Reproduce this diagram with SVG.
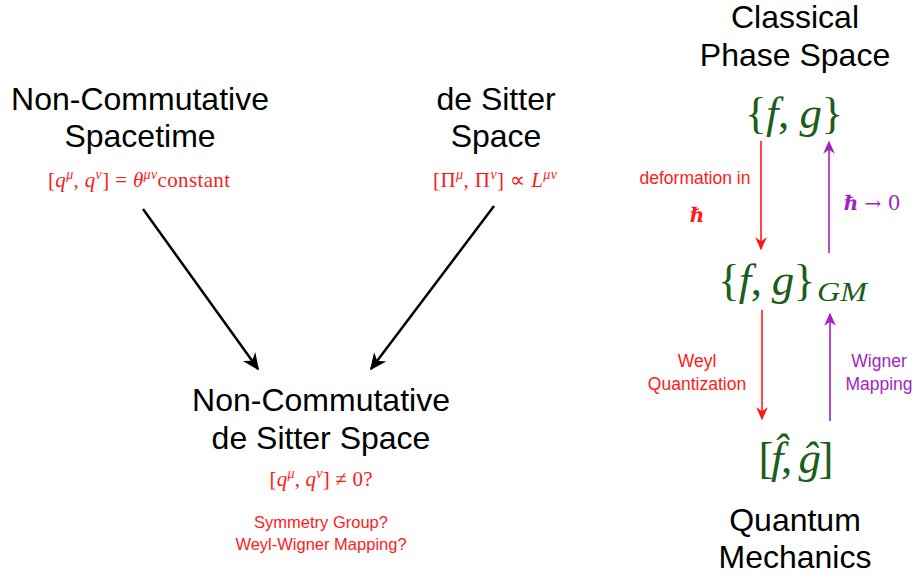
<svg xmlns="http://www.w3.org/2000/svg" width="915" height="578" viewBox="0 0 915 578">
<style>
  .t { font-family: "Liberation Sans", Arial, sans-serif; font-size: 32px; fill: #000; text-anchor: middle; }
  .l { font-family: "Liberation Sans", Arial, sans-serif; text-anchor: middle; }
  .m { font-family: "Liberation Serif", "Times New Roman", serif; font-size: 21px; text-anchor: middle; }
  .g { font-family: "Liberation Serif", "Times New Roman", serif; fill: #1b5e1b; }
  .i { font-style: italic; }
  .red { fill: #ff1a1a; }
  .pur { fill: #a21fc2; }
  .sup { font-size: 14px; }
  .blk { stroke: #000; stroke-width: 2.5; fill: none; }
  .ra { stroke: #ff1a1a; stroke-width: 1.6; fill: none; }
  .pa { stroke: #a21fc2; stroke-width: 1.6; fill: none; }
</style>
<defs>
  <marker id="hb" markerUnits="userSpaceOnUse" viewBox="0 0 10 10" refX="9" refY="5" markerWidth="17" markerHeight="17" orient="auto">
    <path d="M0,0.5 L10,5 L0,9.5 L3,5 z" fill="#000"/>
  </marker>
  <marker id="hr" markerUnits="userSpaceOnUse" viewBox="0 0 10 10" refX="9" refY="5" markerWidth="13" markerHeight="13" orient="auto">
    <path d="M0,0.5 L10,5 L0,9.5 L3,5 z" fill="#ff1a1a"/>
  </marker>
  <marker id="hp" markerUnits="userSpaceOnUse" viewBox="0 0 10 10" refX="9" refY="5" markerWidth="13" markerHeight="13" orient="auto">
    <path d="M0,0.5 L10,5 L0,9.5 L3,5 z" fill="#a21fc2"/>
  </marker>
</defs>

<g id="connectors">
  <line class="blk" x1="143" y1="209" x2="258" y2="369" marker-end="url(#hb)"/>
  <line class="blk" x1="494" y1="206" x2="371" y2="369" marker-end="url(#hb)"/>
  <line class="ra" x1="761" y1="141" x2="761" y2="249" marker-end="url(#hr)"/>
  <line class="pa" x1="829" y1="253" x2="829" y2="142" marker-end="url(#hp)"/>
  <line class="ra" x1="762" y1="310" x2="762" y2="419" marker-end="url(#hr)"/>
  <line class="pa" x1="830" y1="421" x2="830" y2="314" marker-end="url(#hp)"/>
</g>

<g id="nc-spacetime">
  <text class="t" x="140" y="110">Non-Commutative</text>
  <text class="t" x="140" y="147">Spacetime</text>
  <text class="m red" x="139" y="187" textLength="182" lengthAdjust="spacing">[<tspan class="i">q</tspan><tspan class="i sup" dy="-8">μ</tspan><tspan dy="8">, </tspan><tspan class="i">q</tspan><tspan class="i sup" dy="-8">ν</tspan><tspan dy="8">] = </tspan><tspan class="i">θ</tspan><tspan class="i sup" dy="-8">μν</tspan><tspan dy="8">constant</tspan></text>
</g>

<g id="de-sitter">
  <text class="t" x="496" y="110">de Sitter</text>
  <text class="t" x="496" y="147">Space</text>
  <text class="m red" x="495" y="187" textLength="124" lengthAdjust="spacing">[Π<tspan class="i sup" dy="-8">μ</tspan><tspan dy="8">, Π</tspan><tspan class="i sup" dy="-8">ν</tspan><tspan dy="8">] ∝ </tspan><tspan class="i">L</tspan><tspan class="i sup" dy="-8">μν</tspan></text>
</g>

<g id="nc-de-sitter">
  <text class="t" x="321" y="411">Non-Commutative</text>
  <text class="t" x="321" y="449">de Sitter Space</text>
  <text class="m red" x="321" y="486" textLength="103" lengthAdjust="spacing">[<tspan class="i">q</tspan><tspan class="i sup" dy="-8">μ</tspan><tspan dy="8">, </tspan><tspan class="i">q</tspan><tspan class="i sup" dy="-8">ν</tspan><tspan dy="8">] ≠ 0?</tspan></text>
  <text class="l red" x="321" y="528" font-size="16.5">Symmetry Group?</text>
  <text class="l red" x="321" y="550" font-size="16.5">Weyl-Wigner Mapping?</text>
</g>

<g id="classical">
  <text class="t" x="795" y="28">Classical</text>
  <text class="t" x="795" y="66">Phase Space</text>
  <text class="g" x="794" y="128" font-size="45" text-anchor="middle" textLength="98" lengthAdjust="spacing">{<tspan class="i">f</tspan>, <tspan class="i">g</tspan>}</text>
</g>

<g id="gm">
  <text class="g" x="718" y="295" font-size="45" textLength="97" lengthAdjust="spacing">{<tspan class="i">f</tspan>, <tspan class="i">g</tspan>}</text>
  <text class="g i" x="817" y="301" font-size="27" textLength="50" lengthAdjust="spacingAndGlyphs">GM</text>
</g>

<g id="quantum">
  <text class="g" x="796" y="473" font-size="45" text-anchor="middle" textLength="75" lengthAdjust="spacing">[<tspan class="i">f̂</tspan>, <tspan class="i">ĝ</tspan>]</text>
  <text class="t" x="795" y="531">Quantum</text>
  <text class="t" x="795" y="568">Mechanics</text>
</g>

<g id="labels">
  <text class="l red" x="695" y="184" font-size="17.5">deformation in</text>
  <text class="red" x="697" y="222" font-family="'DejaVu Serif', serif" font-size="20" font-weight="bold" text-anchor="middle">ℏ</text>
  <text class="pur" x="872" y="210" font-family="'DejaVu Serif', serif" font-size="20" text-anchor="middle"><tspan font-weight="bold">ℏ</tspan> → 0</text>
  <text class="l red" x="697" y="367" font-size="17.5">Weyl</text>
  <text class="l red" x="697" y="390" font-size="17.5">Quantization</text>
  <text class="l pur" x="879" y="367" font-size="17.5">Wigner</text>
  <text class="l pur" x="879" y="390" font-size="17.5">Mapping</text>
</g>
</svg>
